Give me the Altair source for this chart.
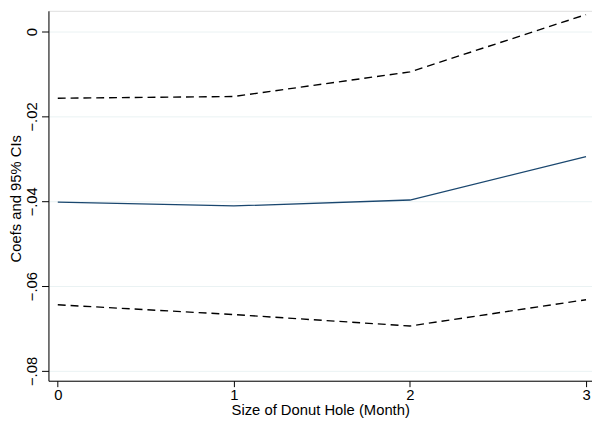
import altair as alt
import pandas as pd

hole = [0, 1, 2, 3]
coef = [-0.0402, -0.0411, -0.0397, -0.0295]
upper = [-0.0157, -0.0153, -0.0095, 0.0040]
lower = [-0.0644, -0.0667, -0.0694, -0.0632]

rows = []
for name, vals in [("upper", upper), ("coef", coef), ("lower", lower)]:
    for h, v in zip(hole, vals):
        rows.append({"hole": h, "value": v, "series": name})
df = pd.DataFrame(rows)

FONT = "Liberation Sans"

x = alt.X("hole:Q", title="Size of Donut Hole (Month)",
          scale=alt.Scale(domain=[-0.053, 3.034], nice=False, zero=False),
          axis=alt.Axis(values=[0, 1, 2, 3], format="d", grid=False, domain=True,
                        domainColor="black", tickColor="black", tickSize=6,
                        labelFontSize=15, titleFontSize=15, labelPadding=1,
                        titlePadding=0, labelColor="black", titleColor="black",
                        labelFont=FONT, titleFont=FONT, titleFontWeight="normal"))
y = alt.Y("value:Q", title="Coefs and 95% CIs",
          scale=alt.Scale(domain=[-0.0823, 0.0049], nice=False, zero=False),
          axis=alt.Axis(values=[0, -0.02, -0.04, -0.06, -0.08],
                        labelExpr="datum.value == 0 ? '0' : replace(replace(format(datum.value, '.2f'), '0.', '.'), '-', '\u2212')",
                        grid=True, gridColor="#eaf2f3", gridWidth=1,
                        domain=True, domainColor="black", tickColor="black", tickSize=7,
                        labelAngle=270, labelAlign="center", labelBaseline="bottom",
                        labelFontSize=15, titleFontSize=15, labelPadding=2,
                        titleX=-33, titleY=190, titleAngle=270, titleAlign="center",
                        titleBaseline="middle", labelColor="black", titleColor="black",
                        labelFont=FONT, titleFont=FONT, titleFontWeight="normal"))

base = alt.Chart(df)
ci = base.transform_filter("datum.series != 'coef'").mark_line(
    color="black", strokeWidth=1.4, strokeDash=[8, 5]
).encode(x=x, y=y, detail="series:N")
mid = base.transform_filter("datum.series == 'coef'").mark_line(
    color="#1a476f", strokeWidth=1.3
).encode(x=x, y=y)

chart = alt.layer(ci, mid).properties(
    width=551, height=375,
    autosize=alt.AutoSizeParams(type="none"),
    padding={"left": 41, "top": 0, "right": 0, "bottom": 40},
).configure_view(stroke=None).configure(background="white")

chart.save("out.html", embed_options={"renderer": "svg", "actions": False})
